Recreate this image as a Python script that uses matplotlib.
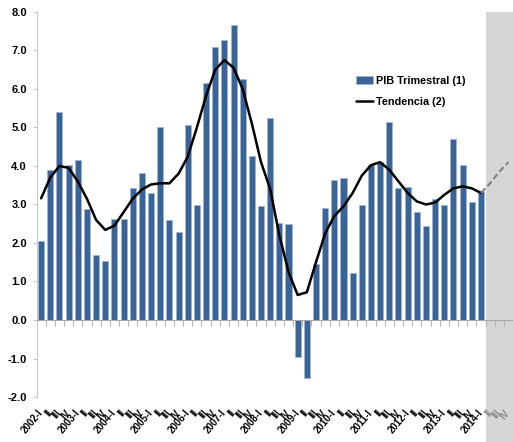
# PIB trimestral y tendencia, 2002-I a 2014-IV
import matplotlib
matplotlib.use("Agg")
import matplotlib.pyplot as plt
import numpy as np

# ── data ─────────────────────────────────────────────────────────────────────
YEARS = list(range(2002, 2015))
QUARTERS = ["I", "II", "III", "IV"]

PIB_TRIMESTRAL = [
    2.05, 3.89, 5.41, 4.03,   # 2002
    4.16, 2.88, 1.68, 1.53,   # 2003
    2.63, 2.62, 3.42, 3.83,   # 2004
    3.31, 5.00, 2.59, 2.29,   # 2005
    5.07, 2.99, 6.16, 7.09,   # 2006
    7.26, 7.66, 6.27, 4.25,   # 2007
    2.95, 5.24, 2.53, 2.49,   # 2008
    -0.95, -1.51, 1.45, 2.90, # 2009
    3.64, 3.69, 1.22, 2.99,   # 2010
    4.02, 4.10, 5.14, 3.43,   # 2011
    3.45, 2.81, 2.44, 3.13,   # 2012
    2.99, 4.69, 4.02, 3.07,   # 2013
    3.35,                     # 2014-I
]

TENDENCIA = [
    3.16, 3.70, 4.00, 3.95,
    3.60, 3.15, 2.60, 2.34,
    2.45, 2.80, 3.15, 3.39,
    3.52, 3.55, 3.55, 3.80,
    4.24, 5.00, 5.82, 6.50,
    6.75, 6.55, 6.00, 5.10,
    4.10, 3.40, 2.20, 1.25,
    0.65, 0.72, 1.50, 2.25,
    2.70, 2.95, 3.30, 3.75,
    4.02, 4.10, 3.90, 3.60,
    3.30, 3.08, 3.00, 3.05,
    3.25, 3.42, 3.47, 3.42,
    3.30,
]

# proyeccion 2014-I .. 2014-IV
TENDENCIA_PROY = [3.30, 3.55, 3.85, 4.10]

Y_TICKS = [-2, -1, 0, 1, 2, 3, 4, 5, 6, 7, 8]

# ── style ────────────────────────────────────────────────────────────────────
BAR_COLOR = "#3A6398"
BAR_EDGE = "#9FB6D3"
SHADE = "#D6D6D6"
AXIS_GRAY = "#A8A8A8"
FONT = "Liberation Sans"

plt.rcParams["font.family"] = FONT
plt.rcParams["axes.unicode_minus"] = False

labels = []
for y in YEARS:
    for q in QUARTERS:
        labels.append(f"{y}-{q}" if q == "I" else q)
n_all = len(labels)
n_obs = len(PIB_TRIMESTRAL)
x_all = np.arange(n_all)
x_obs = np.arange(n_obs)
x_proy = np.arange(n_obs - 1, n_obs - 1 + len(TENDENCIA_PROY))

fig = plt.figure(figsize=(5.13, 4.42), dpi=100)
ax = fig.add_axes([0.0712, 0.1018, 0.9288, 0.8711])

# forecast shading, runs down over the tick labels
ax.axvspan(n_obs - 0.5, n_all, ymin=-0.12, ymax=1.0, color=SHADE,
           zorder=0, clip_on=False, lw=0)

bars = ax.bar(x_obs, PIB_TRIMESTRAL, width=0.66, color=BAR_COLOR,
              edgecolor=BAR_EDGE, linewidth=0.5, zorder=2,
              label="PIB Trimestral (1)")
trend, = ax.plot(x_obs, TENDENCIA, color="black", lw=1.8, zorder=3,
                 solid_capstyle="round", solid_joinstyle="round",
                 label="Tendencia (2)")
ax.plot(x_proy, TENDENCIA_PROY, color="#7F7F7F", lw=1.5, ls=(0, (3, 1.5)),
        zorder=3)

ax.set_xlim(-0.5, 50.8)
ax.set_ylim(-2, 8)

# y axis
ax.set_yticks(Y_TICKS)
ax.set_yticklabels([f"{v:.1f}" for v in Y_TICKS], fontsize=8, fontweight="bold")
ax.tick_params(axis="y", length=3, color="#C8C8C8", pad=4)
for s in ["top", "right"]:
    ax.spines[s].set_visible(False)
ax.spines["left"].set_color("#C8C8C8")

# x axis drawn on the zero line, tick marks between quarters
ax.spines["bottom"].set_position(("data", 0))
ax.spines["bottom"].set_color(AXIS_GRAY)
ax.set_xticks(x_all)
ax.set_xticklabels([])
ax.tick_params(axis="x", which="major", length=0)
ax.set_xticks(np.arange(0.5, n_all, 1), minor=True)
ax.tick_params(axis="x", which="minor", length=4, color=AXIS_GRAY)

# quarter labels along the figure bottom
sec = ax.secondary_xaxis(0.0)
sec.set_xticks(x_all)
sec.set_xticklabels(labels, rotation=50, ha="right", va="center",
                    rotation_mode="anchor", fontsize=7, fontweight="bold")
sec.tick_params(length=0, pad=10)
sec.spines["bottom"].set_visible(False)
for lab in sec.get_xticklabels()[n_obs:]:
    lab.set_color("#8C8C8C")

ax.legend(handles=[bars, trend], loc="upper left",
          bbox_to_anchor=(0.675, 0.85), bbox_transform=fig.transFigure,
          frameon=False, prop={"family": FONT, "weight": "bold", "size": 7.8},
          handlelength=1.6, handletextpad=0.2, labelspacing=1.0)

fig.savefig("out.png", dpi=100)
